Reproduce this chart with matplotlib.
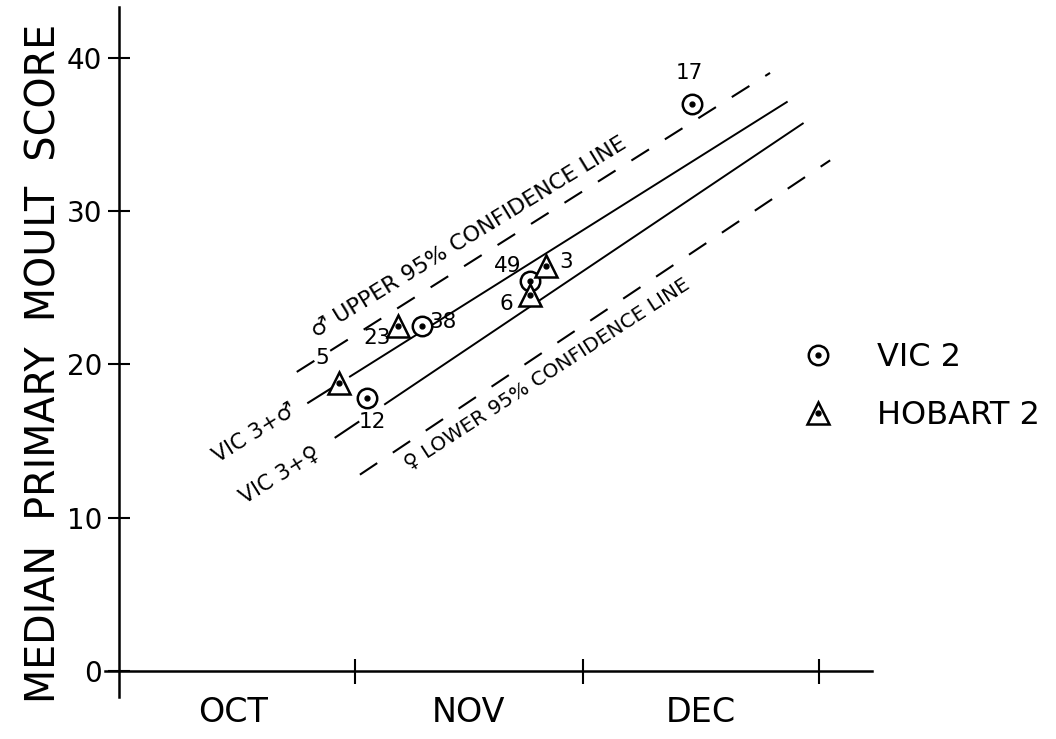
import matplotlib
matplotlib.use("Agg")
import matplotlib.pyplot as plt

# days counted from 1 October, score = median primary moult score
month_names = ["OCT", "NOV", "DEC"]
month_mid = [15, 46, 76.5]
month_edges = [31, 61, 92]
score_ticks = [0, 10, 20, 30, 40]

# VIC 2 samples
vic2_day = [32.6, 39.9, 54.1, 75.4]
vic2_score = [17.8, 22.5, 25.4, 37.0]
vic2_n = ["12", "38", "49", "17"]

# HOBART 2 samples
hob2_day = [28.9, 36.7, 54.1, 56.1]
hob2_score = [18.8, 22.5, 24.5, 26.4]
hob2_n = ["5", "23", "6", "3"]

# fitted lines (start/end)
male_day = [30.4, 87.8]
male_score = [19.2, 37.1]
female_day = [35.0, 89.9]
female_score = [17.4, 35.7]
upper_day = [23.4, 85.6]
upper_score = [19.5, 39.0]
lower_day = [31.7, 93.5]
lower_score = [12.8, 33.3]

fig = plt.figure(figsize=(10.56, 7.39), dpi=100)
ax = fig.add_axes([105 / 1056, 42 / 739, 767 / 1056, 690 / 739])
ax.set_xlim(-1.8, 99)
ax.set_ylim(-1.7, 43.3)

for s in ["top", "right"]:
    ax.spines[s].set_visible(False)
ax.spines["left"].set_position(("data", 0))
ax.spines["bottom"].set_position(("data", 0))
ax.spines["left"].set_linewidth(1.8)
ax.spines["bottom"].set_linewidth(1.8)

ax.set_xticks(month_edges)
ax.set_xticklabels([])
ax.set_xticks(month_mid, minor=True)
ax.set_xticklabels(month_names, minor=True, fontsize=24)
ax.tick_params(axis="x", which="major", direction="inout", length=18, width=1.5)
ax.tick_params(axis="x", which="minor", length=0, pad=18)
ax.set_yticks(score_ticks)
ax.set_yticklabels([str(t) for t in score_ticks], fontsize=20)
ax.tick_params(axis="y", direction="inout", length=16, width=1.5, pad=4)

fig.text(45 / 1056, 1 - 363 / 739, "MEDIAN  PRIMARY  MOULT  SCORE",
         rotation=90, ha="center", va="center", fontsize=28.5)

# lines
ax.plot(male_day, male_score, color="black", lw=1.4)
ax.plot(female_day, female_score, color="black", lw=1.4)
ax.plot(upper_day, upper_score, color="black", lw=1.5, dashes=(10, 9))
ax.plot(lower_day, lower_score, color="black", lw=1.5, dashes=(10, 9))
# short dashed lead-ins on the solid lines
ax.plot([male_day[0] - 5.5, male_day[0] - 2.5],
        [male_score[0] - 5.5 * 0.311, male_score[0] - 2.5 * 0.311], color="black", lw=1.5)
ax.plot([female_day[0] - 6.5, female_day[0] - 3.5],
        [female_score[0] - 6.5 * 0.333, female_score[0] - 3.5 * 0.333], color="black", lw=1.5)

# points
c1, = ax.plot(vic2_day, vic2_score, "o", ms=14, mfc="white", mec="black", mew=1.8, ls="none")
d1, = ax.plot(vic2_day, vic2_score, "o", ms=3.5, color="black", ls="none")
t1, = ax.plot(hob2_day, hob2_score, "^", ms=16, mfc="white", mec="black", mew=1.8, ls="none")
d2, = ax.plot(hob2_day, hob2_score, "o", ms=3.5, color="black", ls="none")

vic_off = [(4, -17), (15, 3), (-16, 11), (-2, 22)]
hob_off = [(-12, 18), (-15, -9), (-17, -6), (15, 3)]
for d, s, n, o in zip(vic2_day, vic2_score, vic2_n, vic_off):
    ax.annotate(n, (d, s), xytext=o, textcoords="offset points",
                ha="center", va="center", fontsize=15.5)
for d, s, n, o in zip(hob2_day, hob2_score, hob2_n, hob_off):
    ax.annotate(n, (d, s), xytext=o, textcoords="offset points",
                ha="center", va="center", fontsize=15.5)

# line labels
ax.text(46.0, 28.3, "\u2642 UPPER 95% CONFIDENCE LINE", rotation=31.5,
        rotation_mode="anchor", ha="center", va="center", fontsize=16)
ax.text(56.4, 19.3, "\u2640 LOWER 95% CONFIDENCE LINE", rotation=33,
        rotation_mode="anchor", ha="center", va="center", fontsize=14.5)
ax.text(17.9, 15.5, "VIC 3+\u2642", rotation=32,
        rotation_mode="anchor", ha="center", va="center", fontsize=15.5)
ax.text(21.2, 12.8, "VIC 3+\u2640", rotation=32,
        rotation_mode="anchor", ha="center", va="center", fontsize=15.5)

ax.legend([(c1, d1), (t1, d2)], ["VIC 2", "HOBART 2"], loc="upper left",
          bbox_to_anchor=(804 / 1056, 1 - 342 / 739), bbox_transform=fig.transFigure,
          frameon=False, fontsize=23, handlelength=0.9, handletextpad=1.4,
          labelspacing=0.85, borderpad=0, borderaxespad=0)

fig.savefig("out.png", dpi=100)
